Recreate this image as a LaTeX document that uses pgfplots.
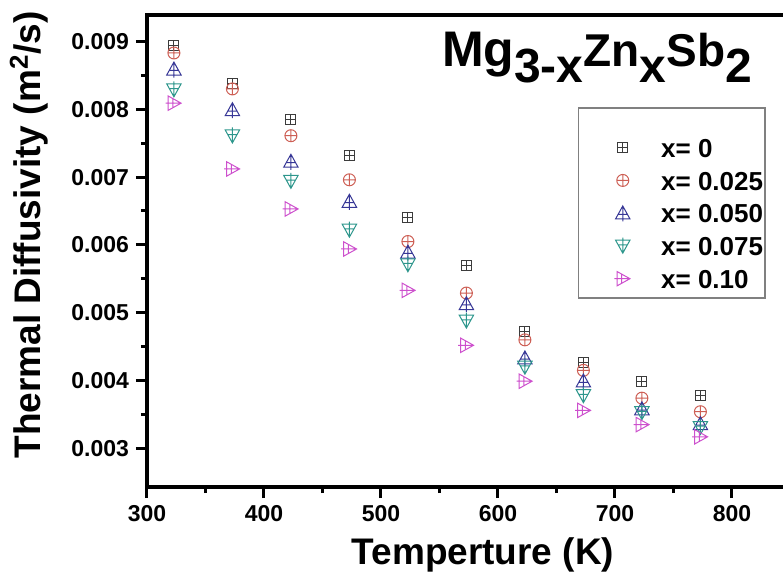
\documentclass[border=0pt]{standalone}
\usepackage{fontspec}
\setmainfont{Liberation Sans}
\usepackage{pgfplots}
\pgfplotsset{compat=1.18}

\definecolor{cA}{RGB}{60,60,60}
\definecolor{cB}{RGB}{205,95,85}
\definecolor{cC}{RGB}{55,55,150}
\definecolor{cD}{RGB}{45,150,140}
\definecolor{cE}{RGB}{205,80,205}

% Origin style open marks with a cross inside
\pgfdeclareplotmark{sqplus}{%
  \pgfpathrectangle{\pgfqpoint{-\pgfplotmarksize}{-\pgfplotmarksize}}{\pgfqpoint{2\pgfplotmarksize}{2\pgfplotmarksize}}%
  \pgfpathmoveto{\pgfqpoint{-\pgfplotmarksize}{0pt}}\pgfpathlineto{\pgfqpoint{\pgfplotmarksize}{0pt}}%
  \pgfpathmoveto{\pgfqpoint{0pt}{-\pgfplotmarksize}}\pgfpathlineto{\pgfqpoint{0pt}{\pgfplotmarksize}}%
  \pgfusepathqstroke}
\pgfdeclareplotmark{triup}{%
  \pgfpathmoveto{\pgfqpoint{0pt}{\pgfplotmarksize}}%
  \pgfpathlineto{\pgfqpoint{-\pgfplotmarksize}{-0.8\pgfplotmarksize}}%
  \pgfpathlineto{\pgfqpoint{\pgfplotmarksize}{-0.8\pgfplotmarksize}}%
  \pgfpathclose
  \pgfpathmoveto{\pgfqpoint{0pt}{\pgfplotmarksize}}\pgfpathlineto{\pgfqpoint{0pt}{-1.15\pgfplotmarksize}}%
  \pgfpathmoveto{\pgfqpoint{-0.64\pgfplotmarksize}{-0.15\pgfplotmarksize}}\pgfpathlineto{\pgfqpoint{0.64\pgfplotmarksize}{-0.15\pgfplotmarksize}}%
  \pgfusepathqstroke}
\pgfdeclareplotmark{tridown}{%
  \pgfpathmoveto{\pgfqpoint{0pt}{-\pgfplotmarksize}}%
  \pgfpathlineto{\pgfqpoint{-\pgfplotmarksize}{0.8\pgfplotmarksize}}%
  \pgfpathlineto{\pgfqpoint{\pgfplotmarksize}{0.8\pgfplotmarksize}}%
  \pgfpathclose
  \pgfpathmoveto{\pgfqpoint{0pt}{-\pgfplotmarksize}}\pgfpathlineto{\pgfqpoint{0pt}{1.15\pgfplotmarksize}}%
  \pgfpathmoveto{\pgfqpoint{-0.64\pgfplotmarksize}{0.15\pgfplotmarksize}}\pgfpathlineto{\pgfqpoint{0.64\pgfplotmarksize}{0.15\pgfplotmarksize}}%
  \pgfusepathqstroke}
\pgfdeclareplotmark{triright}{%
  \pgfpathmoveto{\pgfqpoint{\pgfplotmarksize}{0pt}}%
  \pgfpathlineto{\pgfqpoint{-0.8\pgfplotmarksize}{-\pgfplotmarksize}}%
  \pgfpathlineto{\pgfqpoint{-0.8\pgfplotmarksize}{\pgfplotmarksize}}%
  \pgfpathclose
  \pgfpathmoveto{\pgfqpoint{\pgfplotmarksize}{0pt}}\pgfpathlineto{\pgfqpoint{-1.15\pgfplotmarksize}{0pt}}%
  \pgfpathmoveto{\pgfqpoint{-0.15\pgfplotmarksize}{-0.64\pgfplotmarksize}}\pgfpathlineto{\pgfqpoint{-0.15\pgfplotmarksize}{0.64\pgfplotmarksize}}%
  \pgfusepathqstroke}

% T (K), thermal diffusivity (m^2/s) for x = 0, 0.025, 0.050, 0.075, 0.10
\pgfplotstableread{
T    a       b       c       d       e
323  0.00894 0.00883 0.00859 0.00829 0.00809
373  0.00838 0.00830 0.00799 0.00761 0.00712
423  0.00785 0.00761 0.00723 0.00694 0.00653
473  0.00732 0.00696 0.00664 0.00622 0.00594
523  0.00641 0.00605 0.00589 0.00571 0.00533
573  0.00570 0.00529 0.00513 0.00488 0.00452
623  0.00472 0.00460 0.00433 0.00420 0.00399
673  0.00427 0.00415 0.00399 0.00378 0.00356
723  0.00398 0.00374 0.00358 0.00353 0.00335
773  0.00378 0.00354 0.00336 0.00331 0.00317
}\diffdata

\begin{document}
\begin{tikzpicture}
\begin{axis}[
  width=321.75pt, height=236pt, scale only axis,
  xmin=300, xmax=850, ymin=0.00243, ymax=0.00939,
  xtick={300,400,500,600,700,800},
  ytick={0.003,0.004,0.005,0.006,0.007,0.008,0.009},
  minor x tick num=1, minor y tick num=1,
  xtick pos=bottom, ytick pos=left,
  tick align=outside,
  major tick length=5.5pt, minor tick length=3pt,
  every tick/.style={black, line width=1.5pt},
  axis line style={line width=2.2pt},
  scaled y ticks=false,
  yticklabel style={/pgf/number format/.cd, fixed, fixed zerofill, precision=3},
  /pgf/number format/assume math mode=true,
  tick label style={font=\fontsize{11.5}{12}\selectfont\bfseries},
  xlabel={Temperture (K)},
  ylabel={Thermal Diffusivity (m\textsuperscript{2}/s)},
  label style={font=\fontsize{18.5}{20}\selectfont\bfseries},
  xlabel style={at={(axis description cs:0.522,-0.165)}, anchor=base},
  ylabel style={at={(axis description cs:-0.1834,0.534)}, anchor=center},
  legend style={draw=none, fill=none, inner sep=0pt, row sep=5.8pt, column sep=-1.5pt,
    at={(rel axis cs:0.6744,0.7375)}, anchor=north west,
    font=\fontsize{13}{14}\selectfont\bfseries, nodes={inner sep=0pt}},
  legend cell align=left,
  legend image code/.code={%
    \path (0pt,0pt) (41pt,0pt);
    \draw[#1] plot coordinates {(20.5pt,1.1pt)};},
  clip=false,
]
\addplot[only marks, mark=sqplus, mark size=2.5pt, mark options={cA, line width=0.5pt}] table[x=T, y=a] {\diffdata};
\addlegendentry{x= 0}
\addplot[only marks, mark=oplus, mark size=3pt, mark options={cB, line width=0.5pt}] table[x=T, y=b] {\diffdata};
\addlegendentry{x= 0.025}
\addplot[only marks, mark=triup, mark size=3.6pt, mark options={cC, line width=0.5pt}] table[x=T, y=c] {\diffdata};
\addlegendentry{x= 0.050}
\addplot[only marks, mark=tridown, mark size=3.6pt, mark options={cD, line width=0.5pt}] table[x=T, y=d] {\diffdata};
\addlegendentry{x= 0.075}
\addplot[only marks, mark=triright, mark size=3.6pt, mark options={cE, line width=0.5pt}] table[x=T, y=e] {\diffdata};
\addlegendentry{x= 0.10}

% legend frame
\draw[gray, line width=0.6pt] (rel axis cs:0.670,0.803) rectangle (rel axis cs:0.9604,0.4004);
% title
\node[anchor=base west, inner sep=0pt] at (rel axis cs:0.458,0.89) {\bfseries
  {\fontsize{25}{25}\selectfont Mg}%
  \raisebox{-8pt}{\fontsize{24}{24}\selectfont 3-x}%
  {\fontsize{23}{23}\selectfont Zn}%
  \raisebox{-8pt}{\fontsize{24}{24}\selectfont x}%
  {\fontsize{23}{23}\selectfont Sb}%
  \raisebox{-8pt}{\fontsize{24}{24}\selectfont 2}};
\coordinate (bl) at (rel axis cs:0,0);
\coordinate (tr) at (rel axis cs:0,1);
\end{axis}
\pgfresetboundingbox
\path ([shift={(-73.5pt,-44pt)}]bl) rectangle ([shift={(318pt,7.5pt)}]tr);
\end{tikzpicture}
\end{document}
